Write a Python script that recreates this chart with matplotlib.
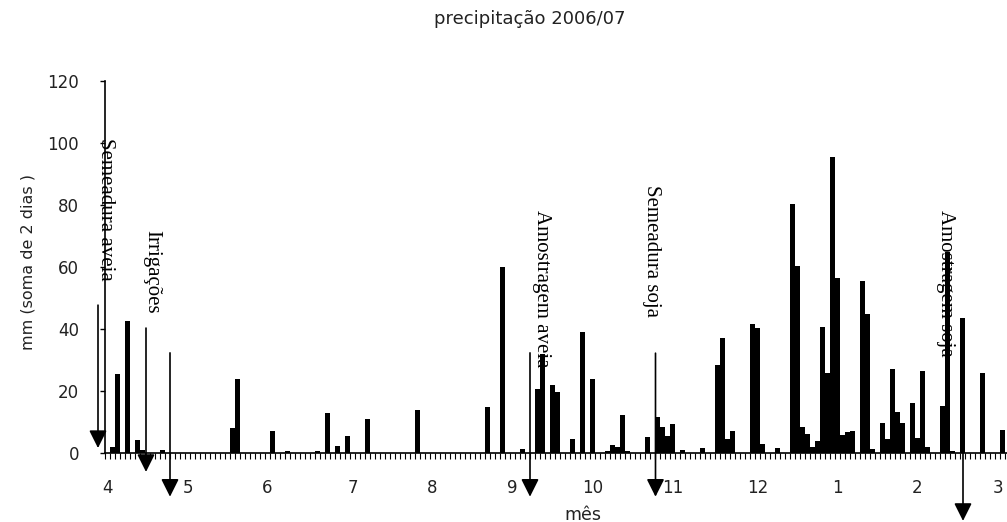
import matplotlib
matplotlib.use('Agg')
import matplotlib.pyplot as plt
import numpy as np

# chuva acumulada em 2 dias (mm); indice = periodo de 2 dias desde o inicio de abril/2006
rain_bins = [1, 2, 4, 6, 7, 11, 25, 26, 33, 36, 42, 44, 46, 48, 52, 62, 76, 79,
             83, 86, 87, 89, 90, 93, 95, 97, 100, 101, 102, 103, 104, 108, 110,
             111, 112, 113, 115, 119, 122, 123, 124, 125, 129, 130, 131, 134,
             137, 138, 139, 140, 141, 142, 143, 144, 145, 146, 147, 148, 149,
             151, 152, 153, 155, 156, 157, 158, 159, 161, 162, 163, 164, 167,
             168, 169, 171, 175, 179]
rain_mm = [2.0, 25.5, 42.5, 4.2, 1.0, 1.0, 8.0, 24.0, 7.2, 0.8, 0.7, 12.8, 2.4,
           5.6, 11.0, 14.0, 15.0, 60.0, 1.3, 20.8, 32.0, 22.0, 19.8, 4.6, 39.0,
           24.0, 0.8, 2.7, 2.0, 12.3, 0.8, 5.2, 11.7, 8.3, 5.6, 9.3, 1.0, 1.6,
           28.4, 37.0, 4.4, 7.2, 41.6, 40.2, 2.8, 1.5, 80.3, 60.3, 8.4, 6.2,
           1.8, 3.9, 40.8, 25.7, 95.4, 56.3, 5.8, 6.9, 7.2, 55.6, 44.7, 1.3,
           9.8, 4.6, 27.0, 13.1, 9.8, 16.2, 4.9, 26.5, 2.0, 15.2, 64.9, 0.8,
           43.7, 25.7, 7.4]

month_bins = [0, 16, 32, 49, 65, 81, 97, 113, 130, 146, 162, 178]
month_labels = ['4', '5', '6', '7', '8', '9', '10', '11', '12', '1', '2', '3']

# eventos: texto, posicao do texto, seta (x, topo, ponta)
events = ['Semeadura aveia', 'Irrigações', 'Amostragem aveia',
          'Semeadura soja', 'Amostragem soja']
event_text_x = [-0.4, 8.9, 86.7, 108.9, 167.7]
event_text_top = [101.6, 71.9, 78.4, 86.5, 78.4]
arrow_x = [-1.9, 7.7, 12.5, 84.5, 109.6, 171.1]
arrow_top = [47.7, 40.3, 32.3, 32.3, 32.2, 0.0]
arrow_tip = [1.6, -6.1, -14.1, -14.1, -14.1, -21.9]

fig = plt.figure(figsize=(10.07, 5.22), dpi=100)
ax = fig.add_axes([105/1007, 69/522, 902/1007, 372/522])

ax.bar(rain_bins, rain_mm, width=0.9, color='black', zorder=2)

ax.set_xlim(-0.5, 179.9)
ax.set_ylim(0, 120)
ax.set_yticks(range(0, 121, 20))
ax.set_xticks(month_bins)
ax.set_xticklabels(month_labels)
ax.set_xticks(np.arange(-0.5, 180, 1), minor=True)

for s in ['top', 'right']:
    ax.spines[s].set_visible(False)
for s in ['left', 'bottom']:
    ax.spines[s].set_linewidth(1.2)

ax.tick_params(axis='x', which='major', length=0, pad=19, labelsize=12, labelcolor='#222222')
ax.tick_params(axis='x', which='minor', length=4.3, width=0.8, direction='out')
ax.tick_params(axis='y', length=3.6, width=1, pad=15, labelsize=12, labelcolor='#222222')

for x, top, tip in zip(arrow_x, arrow_top, arrow_tip):
    ax.annotate('', xy=(x, tip), xytext=(x, top), annotation_clip=False,
                arrowprops=dict(arrowstyle='-|>', color='black', lw=1.2,
                                mutation_scale=27, shrinkA=0, shrinkB=0,
                                clip_on=False), zorder=3)

for txt, x, y in zip(events, event_text_x, event_text_top):
    ax.text(x, y, txt, rotation=-90, ha='center', va='top',
            family='Liberation Serif', fontsize=15, zorder=4, clip_on=False)

fig.text(530/1007, 1 - 19/522, 'precipitação 2006/07', ha='center', va='center',
         fontsize=13, color='#222222')
fig.text(28/1007, 1 - 262/522, 'mm (soma de 2 dias )', rotation=90,
         ha='center', va='center', fontsize=11.5, color='#222222')
fig.text(583/1007, 1 - 506/522, 'mês', ha='center', va='top', fontsize=12.5, color='#222222')

fig.savefig('out.png', dpi=100)
